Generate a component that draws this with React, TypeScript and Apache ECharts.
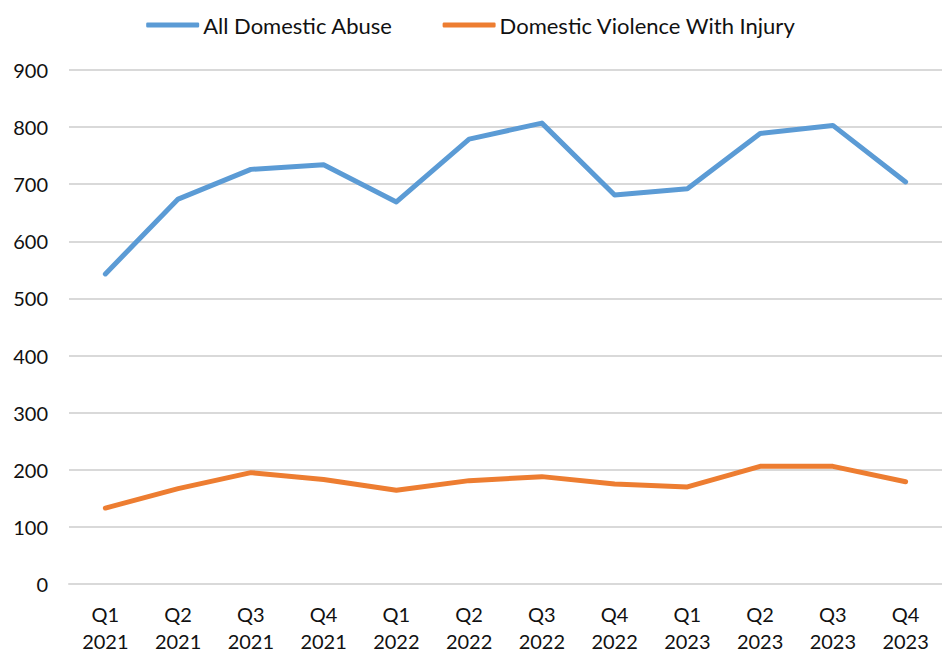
import React, { useEffect, useRef } from "react";
import * as echarts from "echarts";

const categories = [
  "Q1\n2021", "Q2\n2021", "Q3\n2021", "Q4\n2021",
  "Q1\n2022", "Q2\n2022", "Q3\n2022", "Q4\n2022",
  "Q1\n2023", "Q2\n2023", "Q3\n2023", "Q4\n2023",
];
const allDomesticAbuse = [543, 674, 726, 734, 669, 779, 807, 681, 692, 789, 803, 704];
const violenceWithInjury = [133, 167, 195, 183, 164, 181, 188, 175, 170, 206, 206, 179];
const seriesNames = ["All Domestic Abuse", "Domestic Violence With Injury"];
const FONT = "Lato, 'Open Sans', sans-serif";

export default function App() {
  const ref = useRef<HTMLDivElement>(null);
  useEffect(() => {
    if (!ref.current) return;
    const chart = echarts.init(ref.current, undefined, { renderer: "svg" });
    chart.setOption({
      animation: false,
      backgroundColor: "#ffffff",
      textStyle: { fontFamily: FONT },
      legend: {
        top: 9,
        left: "center",
        itemWidth: 53,
        itemHeight: 5,
        itemGap: 50,
        icon: "roundRect",
        textStyle: { fontSize: 22, color: "#111111", fontFamily: FONT, padding: [0, 0, 0, -1] },
        data: seriesNames,
      },
      grid: { left: 69, right: 0, top: 70, bottom: 72, containLabel: false },
      xAxis: {
        type: "category",
        data: categories,
        boundaryGap: true,
        axisLine: { lineStyle: { color: "#D9D9D9", width: 2 } },
        axisTick: { show: false },
        axisLabel: {
          fontSize: 20,
          color: "#111111",
          lineHeight: 27,
          margin: 16,
          fontFamily: FONT,
        },
      },
      yAxis: {
        type: "value",
        min: 0,
        max: 900,
        interval: 100,
        axisLine: { show: false },
        axisTick: { show: false },
        splitLine: { lineStyle: { color: "#D9D9D9", width: 2 } },
        axisLabel: { fontSize: 20, color: "#111111", margin: 21, fontFamily: FONT },
      },
      series: [
        {
          name: seriesNames[0],
          type: "line",
          data: allDomesticAbuse,
          symbol: "none",
          lineStyle: { color: "#5B9BD5", width: 5, cap: "round", join: "round" },
          itemStyle: { color: "#5B9BD5" },
        },
        {
          name: seriesNames[1],
          type: "line",
          data: violenceWithInjury,
          symbol: "none",
          lineStyle: { color: "#ED7D31", width: 5, cap: "round", join: "round" },
          itemStyle: { color: "#ED7D31" },
        },
      ],
    });
    return () => chart.dispose();
  }, []);
  return (
    <div
      ref={ref}
      style={{ position: "fixed", left: 0, top: 0, width: 942, height: 656, background: "#fff" }}
    />
  );
}
